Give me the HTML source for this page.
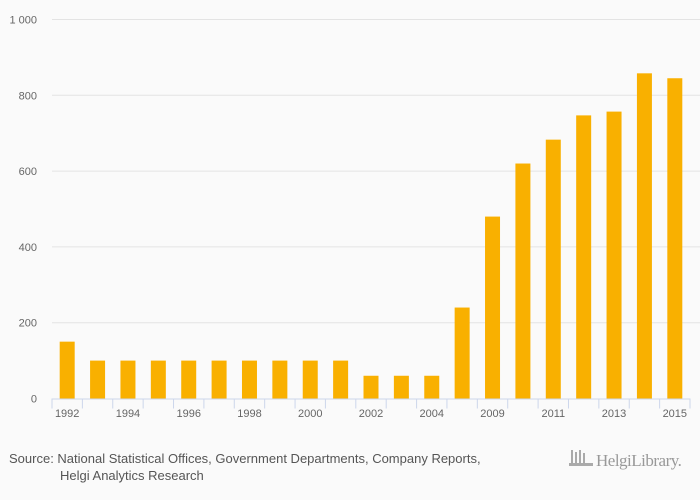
<!DOCTYPE html>
<html><head><meta charset="utf-8"><style>
body{margin:0;background:#fafafa;font-family:"Liberation Sans",sans-serif}
svg{display:block}
</style></head><body>
<svg id="chart" width="700" height="500">
<rect width="700" height="500" fill="#fafafa"/>
<g id="grid"></g><g id="bars"></g><g id="xaxis"></g>
<text x="9" y="463" font-size="13" fill="#555">Source: National Statistical Offices, Government Departments, Company Reports,</text>
<text x="60" y="480" font-size="13" fill="#555">Helgi Analytics Research</text>
<g>
<rect x="571" y="450" width="2" height="14" fill="#aaa"/><rect x="575" y="452" width="2" height="12" fill="#aaa"/><rect x="579" y="450" width="2" height="14" fill="#aaa"/><rect x="583" y="453" width="2" height="11" fill="#aaa"/><rect x="569" y="463" width="24" height="3" fill="#aaa"/>
<text x="596" y="466" font-size="17" fill="#999" font-family="Liberation Serif, serif" letter-spacing="-0.5">HelgiLibrary.</text>
</g>
</svg>
<script>
const categories=["1992","1993","1994","1995","1996","1997","1998","1999","2000","2001","2002","2003","2004","2008","2009","2010","2011","2012","2013","2014","2015"];
const values=[150,100,100,100,100,100,100,100,100,100,60,60,60,240,480,620,683,747,757,858,845];
const yTicks=[0,200,400,600,800,1000];
const yTickLabels=["0","200","400","600","800","1 000"];
const NS="http://www.w3.org/2000/svg";
const x0=52,x1=690,yBase=398.5,yTop=19.5,yMax=1000;
const step=(x1-x0)/categories.length;
function y(v){return yBase-(v/yMax)*(yBase-yTop);}
function xc(i){return x0+step*(i+0.5);}
function mk(tag,attrs,parent){const e=document.createElementNS(NS,tag);for(const k in attrs)e.setAttribute(k,attrs[k]);parent.appendChild(e);return e;}
const grid=document.getElementById('grid'),bars=document.getElementById('bars'),xa=document.getElementById('xaxis');
yTicks.forEach((t,i)=>{
 if(t>0){const l=mk('line',{x1:x0,x2:700,y1:y(t),y2:y(t),stroke:'#e3e3e3','stroke-width':1},grid);
 
 }
 const tx=mk('text',{x:37,y:y(t)+4,'font-size':11,fill:'#666','text-anchor':'end'},grid);
 tx.textContent=yTickLabels[i];
 
 
});
values.forEach((v,i)=>{
 const r=mk('rect',{x:xc(i)-7.5,y:y(v),width:15,height:yBase-y(v),fill:'#f9b000'},bars);
 
 
});
const ax=mk('line',{x1:x0,x2:x1,y1:yBase+0.5,y2:yBase+0.5,stroke:'#ccd6eb'},xa);


for(let i=0;i<=categories.length;i++){
 const t=mk('line',{x1:x0+step*i,x2:x0+step*i,y1:yBase,y2:yBase+10,stroke:'#ccd6eb'},xa);
 
 
}
categories.forEach((c,i)=>{
 if(i%2)return;
 const tx=mk('text',{x:xc(i),y:417,'font-size':11,fill:'#666','text-anchor':'middle'},xa);
 tx.textContent=c;
 
 
});
</script>
</body></html>
